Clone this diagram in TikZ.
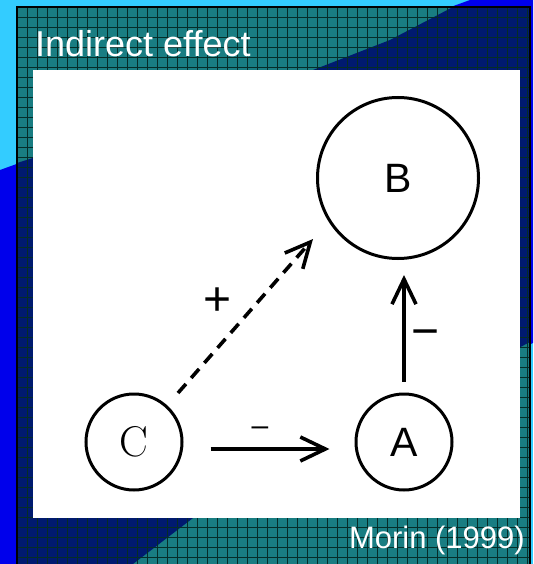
\documentclass[tikz,border=0pt]{standalone}
\usepackage{fontspec}
\setsansfont{Liberation Sans}
\usepackage{tikz}
\usetikzlibrary{arrows.meta,calc,positioning}
\usepackage{xcolor}
\definecolor{cielo}{RGB}{51,204,255}
\definecolor{bluvivo}{RGB}{0,0,235}
\definecolor{notte}{RGB}{0,26,112}
\definecolor{ottanio}{RGB}{25,125,130}
\definecolor{griglia}{RGB}{5,45,40}

\begin{document}
\begin{tikzpicture}[x=1pt, y=-1pt,
  nodo/.style={draw, circle, line width=3pt, inner sep=0pt},
  freccia/.style={line width=3.6pt, -{Straight Barb[length=25pt,width=24pt]}},
  segno/.style={font=\sffamily\fontsize{48}{48}\selectfont, anchor=base, inner sep=0pt}]
\useasboundingbox (0,0) rectangle (533,564);
% --- sfondo della diapositiva ---
\fill[cielo] (0,0) rectangle (533,564);
\fill[bluvivo] (0,170) -- (470,0) -- (533,0) -- (533,343) -- (17,564) -- (0,564) -- cycle;
\fill[ottanio] (17,7) rectangle (530,564);
\fill[notte] (17,163) -- (313,70) -- (390,40) -- (453,7) -- (530,7) -- (530,342) -- (193,518) -- (133,564) -- (17,564) -- cycle;
\foreach \gx in {17,27,...,527} \draw[griglia, line width=0.8pt] (\gx,7) -- (\gx,564);
\foreach \gy in {7,17,...,557} \draw[griglia, line width=0.8pt] (17,\gy) -- (530,\gy);
\draw[line width=2pt] (17,564) -- (17,7) -- (530,7) -- (530,564);
\fill[white] (33,70) rectangle (520,518);
\node[anchor=base west, inner sep=0pt, text=white, font=\sffamily\fontsize{36}{36}\selectfont] (titolo) at (35,57) {Indirect effect};
\node[anchor=base east, inner sep=0pt, text=white, font=\sffamily\fontsize{31}{31}\selectfont] (fonte) at (525,548) {Morin (1999)};
% --- specie e interazioni ---
\node[nodo, minimum size=161pt, font=\sffamily\fontsize{41}{41}\selectfont] (B) at (398,178) {B};
\node[nodo, minimum size=96pt, font=\fontsize{43}{43}\selectfont] (C) at (134,442) {C};
\node[nodo, minimum size=96pt, font=\sffamily\fontsize{41}{41}\selectfont] (A) at (404,442) {A};
\draw[freccia] ([shift={(27,7)}]C.east) -- ([shift={(-25,7)}]A.west);
\draw[freccia] ([shift={(0,-11)}]A.north) -- ([shift={(6,15)}]B.south);
\draw[freccia, dash pattern=on 12pt off 8pt] ([shift={(44,-49)}]C.center) -- ([shift={(-85,61)}]B.center);
\node[segno] (piu) at (218,315) {+};
\node[segno] (meno) at (426,347.5) {−};
\node[segno, font=\sffamily\fontsize{30}{30}\selectfont] (trattino) at (260,435) {–};
\end{tikzpicture}
\end{document}
